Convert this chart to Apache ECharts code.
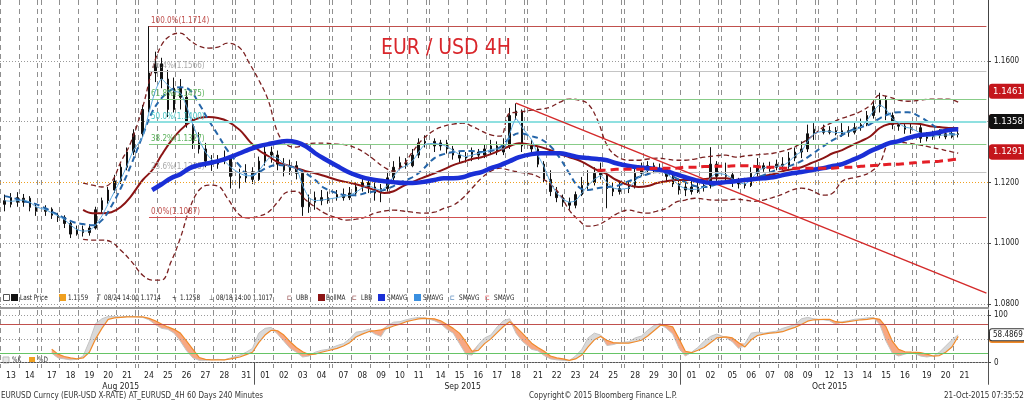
<!DOCTYPE html>
<html><head><meta charset="utf-8">
<script src="https://cdn.jsdelivr.net/npm/echarts@6/dist/echarts.min.js"></script>
<style>html,body{margin:0;padding:0;background:#fff}#c{width:1024px;height:401px}</style>
</head><body><div id="c"></div><script>
// ---------------- DATA ----------------
const dates = ['2015-08-13','2015-08-14','2015-08-17','2015-08-18','2015-08-19','2015-08-20','2015-08-21','2015-08-24','2015-08-25','2015-08-26','2015-08-27','2015-08-28','2015-08-31','2015-09-01','2015-09-02','2015-09-03','2015-09-04','2015-09-07','2015-09-08','2015-09-09','2015-09-10','2015-09-11','2015-09-14','2015-09-15','2015-09-16','2015-09-17','2015-09-18','2015-09-21','2015-09-22','2015-09-23','2015-09-24','2015-09-25','2015-09-28','2015-09-29','2015-09-30','2015-10-01','2015-10-02','2015-10-05','2015-10-06','2015-10-07','2015-10-08','2015-10-09','2015-10-12','2015-10-13','2015-10-14','2015-10-15','2015-10-16','2015-10-19','2015-10-20','2015-10-21'];
const monthNames = {'08':'Aug 2015','09':'Sep 2015','10':'Oct 2015'};
// 8-hour OHLC bars, three per day: [open, close, low, high]
const ohlc = [
[1.1140,1.1128,1.1105,1.1160],[1.1128,1.1150,1.1118,1.1165],[1.1150,1.1135,1.1120,1.1168],
[1.1135,1.1148,1.1120,1.1162],[1.1148,1.1118,1.1105,1.1155],[1.1118,1.1105,1.1090,1.1130],
[1.1105,1.1112,1.1090,1.1125],[1.1112,1.1092,1.1080,1.1118],[1.1092,1.1085,1.1070,1.1100],
[1.1085,1.1065,1.1050,1.1092],[1.1065,1.1030,1.1017,1.1070],[1.1030,1.1045,1.1025,1.1058],
[1.1045,1.1035,1.1022,1.1058],[1.1035,1.1050,1.1025,1.1062],[1.1050,1.1110,1.1045,1.1120],
[1.1110,1.1140,1.1100,1.1150],[1.1140,1.1175,1.1130,1.1185],[1.1175,1.1205,1.1165,1.1225],
[1.1205,1.1250,1.1195,1.1262],[1.1250,1.1300,1.1240,1.1315],[1.1300,1.1360,1.1290,1.1375],
[1.1360,1.1440,1.1350,1.1455],[1.1440,1.1560,1.1430,1.1714],[1.1560,1.1590,1.1530,1.1630],
[1.1590,1.1540,1.1510,1.1610],[1.1540,1.1440,1.1415,1.1570],[1.1440,1.1510,1.1430,1.1545],
[1.1510,1.1480,1.1440,1.1540],[1.1480,1.1390,1.1380,1.1500],[1.1390,1.1330,1.1310,1.1410],
[1.1330,1.1310,1.1295,1.1365],[1.1310,1.1270,1.1250,1.1330],[1.1270,1.1260,1.1238,1.1290],
[1.1260,1.1275,1.1245,1.1290],[1.1275,1.1280,1.1260,1.1305],[1.1280,1.1220,1.1180,1.1290],
[1.1220,1.1215,1.1180,1.1245],[1.1215,1.1235,1.1200,1.1260],[1.1235,1.1210,1.1195,1.1250],
[1.1210,1.1270,1.1205,1.1285],[1.1270,1.1300,1.1255,1.1318],[1.1300,1.1290,1.1265,1.1318],
[1.1290,1.1260,1.1240,1.1305],[1.1260,1.1240,1.1220,1.1280],[1.1240,1.1255,1.1225,1.1275],
[1.1255,1.1230,1.1210,1.1270],[1.1230,1.1120,1.1090,1.1240],[1.1120,1.1135,1.1100,1.1160],
[1.1135,1.1150,1.1110,1.1170],[1.1150,1.1140,1.1125,1.1175],[1.1140,1.1150,1.1130,1.1170],
[1.1150,1.1160,1.1140,1.1175],[1.1160,1.1150,1.1140,1.1180],[1.1150,1.1165,1.1142,1.1185],
[1.1165,1.1185,1.1155,1.1200],[1.1185,1.1200,1.1170,1.1215],[1.1200,1.1185,1.1165,1.1218],
[1.1185,1.1165,1.1140,1.1200],[1.1165,1.1180,1.1135,1.1195],[1.1180,1.1215,1.1170,1.1235],
[1.1215,1.1250,1.1205,1.1270],[1.1250,1.1265,1.1240,1.1285],[1.1265,1.1255,1.1245,1.1280],
[1.1255,1.1290,1.1250,1.1310],[1.1290,1.1330,1.1280,1.1345],[1.1330,1.1335,1.1315,1.1355],
[1.1335,1.1320,1.1300,1.1345],[1.1320,1.1330,1.1305,1.1340],[1.1330,1.1310,1.1295,1.1340],
[1.1310,1.1290,1.1275,1.1320],[1.1290,1.1280,1.1265,1.1300],[1.1280,1.1285,1.1265,1.1300],
[1.1285,1.1300,1.1270,1.1315],[1.1300,1.1290,1.1275,1.1310],[1.1290,1.1310,1.1280,1.1325],
[1.1310,1.1320,1.1290,1.1340],[1.1320,1.1300,1.1290,1.1335],[1.1300,1.1320,1.1290,1.1345],
[1.1320,1.1420,1.1310,1.1445],[1.1420,1.1435,1.1405,1.1460],[1.1435,1.1320,1.1300,1.1440],
[1.1320,1.1310,1.1290,1.1340],[1.1310,1.1260,1.1250,1.1320],[1.1260,1.1210,1.1200,1.1270],
[1.1210,1.1170,1.1155,1.1240],[1.1170,1.1150,1.1135,1.1185],[1.1150,1.1135,1.1120,1.1160],
[1.1135,1.1125,1.1110,1.1150],[1.1125,1.1160,1.1115,1.1170],[1.1160,1.1190,1.1155,1.1218],
[1.1190,1.1200,1.1175,1.1240],[1.1200,1.1230,1.1190,1.1250],[1.1230,1.1225,1.1210,1.1265],
[1.1225,1.1180,1.1115,1.1235],[1.1180,1.1170,1.1155,1.1200],[1.1170,1.1180,1.1160,1.1205],
[1.1180,1.1190,1.1165,1.1205],[1.1190,1.1230,1.1180,1.1245],[1.1230,1.1240,1.1220,1.1265],
[1.1240,1.1255,1.1225,1.1270],[1.1255,1.1240,1.1230,1.1265],[1.1240,1.1245,1.1230,1.1262],
[1.1245,1.1220,1.1200,1.1250],[1.1220,1.1195,1.1185,1.1230],[1.1195,1.1175,1.1160,1.1205],
[1.1175,1.1185,1.1155,1.1200],[1.1185,1.1170,1.1160,1.1205],[1.1170,1.1185,1.1165,1.1205],
[1.1185,1.1190,1.1170,1.1210],[1.1190,1.1260,1.1180,1.1316],[1.1260,1.1220,1.1205,1.1270],
[1.1220,1.1225,1.1205,1.1265],[1.1225,1.1200,1.1185,1.1235],[1.1200,1.1195,1.1180,1.1215],
[1.1195,1.1190,1.1180,1.1215],[1.1190,1.1230,1.1185,1.1250],[1.1230,1.1255,1.1220,1.1280],
[1.1255,1.1245,1.1235,1.1265],[1.1245,1.1250,1.1235,1.1268],[1.1250,1.1260,1.1240,1.1275],
[1.1260,1.1255,1.1240,1.1283],[1.1255,1.1280,1.1245,1.1300],[1.1280,1.1300,1.1270,1.1315],
[1.1300,1.1310,1.1280,1.1335],[1.1310,1.1360,1.1300,1.1390],[1.1360,1.1375,1.1340,1.1395],
[1.1375,1.1365,1.1358,1.1390],[1.1365,1.1370,1.1358,1.1385],[1.1370,1.1360,1.1355,1.1382],
[1.1360,1.1370,1.1350,1.1395],[1.1370,1.1365,1.1350,1.1385],[1.1365,1.1380,1.1358,1.1400],
[1.1380,1.1390,1.1370,1.1410],[1.1390,1.1420,1.1385,1.1435],[1.1420,1.1450,1.1410,1.1470],
[1.1450,1.1470,1.1430,1.1495],[1.1470,1.1420,1.1405,1.1485],[1.1420,1.1390,1.1375,1.1430],
[1.1390,1.1385,1.1370,1.1400],[1.1385,1.1375,1.1360,1.1395],[1.1375,1.1380,1.1360,1.1395],
[1.1380,1.1345,1.1330,1.1390],[1.1345,1.1350,1.1335,1.1365],[1.1350,1.1355,1.1340,1.1370],
[1.1355,1.1360,1.1345,1.1375],[1.1360,1.1350,1.1342,1.1375],[1.1350,1.1360,1.1345,1.1380],
[1.1360,1.1358,1.1348,1.1375]
];
// fast SMAVG (light blue), three per day
const smaFast = [
1.1140,1.1138,1.1140, 1.1142,1.1135,1.1120, 1.1110,1.1100,1.1090, 1.1078,1.1060,1.1045,
1.1040,1.1042,1.1060, 1.1090,1.1130,1.1170, 1.1210,1.1255,1.1305, 1.1350,1.1430,1.1500,
1.1540,1.1520,1.1500, 1.1495,1.1450,1.1390, 1.1340,1.1300,1.1275, 1.1268,1.1270,1.1250,
1.1230,1.1222,1.1222, 1.1238,1.1265,1.1285, 1.1280,1.1262,1.1252, 1.1245,1.1190,1.1150,
1.1140,1.1142,1.1145, 1.1150,1.1155,1.1158, 1.1168,1.1182,1.1190, 1.1180,1.1175,1.1190,
1.1220,1.1245,1.1255, 1.1270,1.1300,1.1325, 1.1328,1.1325,1.1318, 1.1305,1.1292,1.1285,
1.1290,1.1295,1.1300, 1.1308,1.1310,1.1310, 1.1360,1.1410,1.1380, 1.1340,1.1290,1.1250,
1.1200,1.1165,1.1145, 1.1135,1.1140,1.1165, 1.1190,1.1210,1.1222, 1.1200,1.1182,1.1178,
1.1182,1.1205,1.1225, 1.1240,1.1245,1.1242, 1.1232,1.1210,1.1190, 1.1180,1.1177,1.1178,
1.1185,1.1215,1.1230, 1.1225,1.1212,1.1200, 1.1195,1.1210,1.1235, 1.1248,1.1250,1.1253,
1.1255,1.1268,1.1288, 1.1302,1.1335,1.1360, 1.1368,1.1368,1.1364, 1.1364,1.1366,1.1372,
1.1382,1.1405,1.1435, 1.1455,1.1440,1.1410, 1.1395,1.1382,1.1378, 1.1362,1.1352,1.1352,
1.1355,1.1356,1.1356, 1.1358
];
// two values per day
const smaMid = [
1.1155,1.1148, 1.1138,1.1132, 1.1115,1.1099, 1.1083,1.1069, 1.1063,1.1059, 1.1076,1.1122, 1.1181,1.1250,
1.1355,1.1431, 1.1477,1.1504, 1.1513,1.1504, 1.1458,1.1405, 1.1356,1.1306, 1.1254,1.1221,
1.1234,1.1250, 1.1257,1.1254, 1.1247,1.1230, 1.1208,1.1181, 1.1165,1.1158, 1.1158,1.1165, 1.1171,1.1175,
1.1188,1.1204, 1.1217,1.1240, 1.1280,1.1293, 1.1300,1.1303, 1.1303,1.1300, 1.1303,1.1316, 1.1346,1.1362,
1.1352,1.1342, 1.1319,1.1280, 1.1230,1.1185, 1.1175,1.1181, 1.1185,1.1188, 1.1204,1.1217, 1.1227,1.1234,
1.1230,1.1214, 1.1201,1.1188, 1.1185,1.1191, 1.1204,1.1208, 1.1211,1.1214, 1.1224,1.1237, 1.1247,1.1257,
1.1270,1.1290, 1.1319,1.1339, 1.1356,1.1372, 1.1382,1.1392, 1.1411,1.1425, 1.1431,1.1431, 1.1415,1.1395,
1.1375,1.1362, 1.1356
];
const bollMA = [
null,null, null,null, null,null, null,null,
1.1110,1.1099, 1.1099,1.1102, 1.1119,1.1151, 1.1208,1.1240, 1.1290,1.1336, 1.1372,1.1398, 1.1412,1.1415,
1.1412,1.1402, 1.1372,1.1336, 1.1306,1.1287, 1.1267,1.1257, 1.1247,1.1237, 1.1230,1.1221, 1.1208,1.1201,
1.1194,1.1185, 1.1175,1.1165, 1.1171,1.1188, 1.1201,1.1214, 1.1230,1.1243, 1.1257,1.1267, 1.1277,1.1283,
1.1293,1.1306, 1.1319,1.1329, 1.1323,1.1316, 1.1306,1.1293, 1.1283,1.1273, 1.1257,1.1240, 1.1227,1.1208,
1.1191,1.1185, 1.1188,1.1198, 1.1204,1.1208, 1.1208,1.1208, 1.1211,1.1214, 1.1214,1.1208, 1.1211,1.1214,
1.1221,1.1227, 1.1237,1.1243, 1.1250,1.1263, 1.1280,1.1296, 1.1306,1.1322, 1.1336,1.1352, 1.1379,1.1392,
1.1395,1.1395, 1.1392,1.1385, 1.1382,1.1379, 1.1379
];
const upperBand = [
null,null, null,null, null,null, null,null,
1.1198,1.1191, 1.1185,1.1201, 1.1267,1.1326, 1.1448,1.1569, 1.1652,1.1684, 1.1691,1.1668, 1.1648,1.1642,
1.1645,1.1658, 1.1642,1.1592, 1.1537,1.1471, 1.1365,1.1323, 1.1316,1.1326, 1.1329,1.1329, 1.1326,1.1323,
1.1313,1.1296, 1.1273,1.1250, 1.1237,1.1257, 1.1300,1.1339, 1.1372,1.1385, 1.1392,1.1395, 1.1385,1.1369,
1.1356,1.1352, 1.1428,1.1431, 1.1438,1.1441, 1.1448,1.1464, 1.1474,1.1471, 1.1458,1.1405, 1.1323,1.1287,
1.1273,1.1273, 1.1277,1.1280, 1.1277,1.1273, 1.1273,1.1277, 1.1283,1.1287, 1.1290,1.1283, 1.1287,1.1290,
1.1293,1.1296, 1.1303,1.1313, 1.1329,1.1349, 1.1382,1.1398, 1.1411,1.1421, 1.1434,1.1454, 1.1487,1.1481,
1.1471,1.1467, 1.1471,1.1474, 1.1474,1.1474, 1.1464
];
const lowerBand = [
null,null, null,null, null,null, null,null,
1.1013,1.1010, 1.1010,1.1004, 1.0977,1.0945, 1.0895,1.0879, 1.0879,1.0938, 1.1017,1.1115, 1.1175,1.1191,
1.1188,1.1148, 1.1092,1.1083, 1.1089,1.1102, 1.1135,1.1168, 1.1171,1.1142, 1.1119,1.1099, 1.1083,1.1076,
1.1079,1.1086, 1.1099,1.1106, 1.1109,1.1106, 1.1102,1.1099, 1.1102,1.1115, 1.1125,1.1148, 1.1181,1.1214,
1.1237,1.1247, 1.1240,1.1234, 1.1227,1.1214, 1.1194,1.1161, 1.1109,1.1076, 1.1056,1.1060, 1.1076,1.1096,
1.1109,1.1102, 1.1099,1.1106, 1.1115,1.1135, 1.1142,1.1148, 1.1145,1.1142, 1.1142,1.1145, 1.1142,1.1138,
1.1142,1.1151, 1.1161,1.1175, 1.1181,1.1175, 1.1158,1.1165, 1.1204,1.1214, 1.1221,1.1234, 1.1263,1.1329,
1.1333,1.1329, 1.1323,1.1316, 1.1310,1.1303, 1.1296
];
const smaSlow = [
null,null, null,null, null,null, null,null, null,null, null,null, null,null,
null,1.1175, 1.1194,1.1214, 1.1227,1.1247, 1.1257,1.1263, 1.1270,1.1280, 1.1296,1.1309,
1.1319,1.1326, 1.1332,1.1336, 1.1332,1.1319, 1.1296,1.1277, 1.1254,1.1237, 1.1224,1.1214, 1.1208,1.1204,
1.1201,1.1198, 1.1198,1.1201, 1.1208,1.1214, 1.1214,1.1217, 1.1227,1.1234, 1.1247,1.1257, 1.1270,1.1283,
1.1293,1.1296, 1.1296,1.1296, 1.1290,1.1283, 1.1280,1.1277, 1.1273,1.1263, 1.1254,1.1250, 1.1247,1.1243,
1.1237,1.1227, 1.1217,1.1208, 1.1201,1.1198, 1.1201,1.1204, 1.1208,1.1211, 1.1214,1.1217, 1.1224,1.1230,
1.1234,1.1240, 1.1247,1.1254, 1.1260,1.1273, 1.1286,1.1303, 1.1316,1.1329, 1.1336,1.1346, 1.1356,1.1359,
1.1365,1.1372, 1.1375
];
const smaRed = [
null,null, null,null, null,null, null,null, null,null, null,null, null,null, null,null, null,null, null,null,
null,null, null,null, null,null, null,null, null,null, null,null, null,null, null,null, null,null, null,null,
null,null, null,null, null,null, null,null, null,null, null,null, null,null, null,null, null,null, null,null,
null,1.1240, 1.1240,1.1243, 1.1243,1.1243, 1.1245,1.1247, 1.1247,1.1247, 1.1250,1.1250, 1.1252,1.1253,
1.1253,1.1255, 1.1255,1.1253, 1.1250,1.1250, 1.1247,1.1247, 1.1247,1.1247, 1.1247,1.1247, 1.1250,1.1250,
1.1253,1.1255, 1.1257,1.1260, 1.1260,1.1263, 1.1266,1.1268, 1.1270,1.1273, 1.1277
];
// stochastic oscillator, three per day
const stochK = [
null,null,null, null,null,null, null,20,10, 8,6,7, 14,45,82, 92,97,97, 96,97,97, 95,90,80,
72,70,62, 45,25,10, 5,5,6, 7,6,10, 16,22,30, 62,72,74, 60,45,30, 22,12,14, 22,26,28,
36,40,50, 64,66,70, 60,55,78, 85,86,90, 93,95,94, 88,82,70, 62,40,18, 16,38,52, 58,75,88,
92,62,45, 28,25,15, 8,6,5, 4,14,28, 52,62,58, 36,38,42, 44,52,56, 68,78,82, 72,60,30,
14,22,32, 45,55,60, 52,44,30, 40,62,64, 62,64,66, 72,76,80, 92,95,92, 90,88,80, 86,88,91,
92,94,95, 80,45,20, 14,18,22, 14,12,14, 22,35,48, 58.4869
];
const stochD = [
null,null,null, null,null,null, null,28,18, 13,10,8, 10,22,50, 72,91,94, 95,96,96, 96,93,88,
81,75,70, 62,45,28, 11,7,6, 6,6,8, 12,17,22, 42,58,68, 67,58,44, 32,23,17, 18,22,25,
30,35,42, 54,60,65, 67,69,72, 77,81,86, 89,92,93, 92,88,80, 72,62,44, 24,26,40, 50,63,76,
86,75,62, 41,32,24, 14,10,8, 5,8,16, 33,48,55, 47,42,41, 41,44,47, 56,67,78, 78,75,50,
24,21,26, 32,42,52, 54,52,42, 33,48,57, 60,62,63, 65,70,74, 80,87,90, 91,91,86, 84,86,88,
90,91,93, 91,75,45, 28,23,22, 21,18,14, 15,22,33, 55.2
];
const priceTicks = [1.08, 1.10, 1.12, 1.14, 1.16];
const fibPct = [100.0, 76.4, 61.8, 50.0, 38.2, 23.6, 0.0];
const fibVal = [1.1714, 1.1566, 1.1475, 1.1400, 1.1327, 1.1235, 1.1087];
const lastPrice = 1.1358, refLevel = 1.1159;
const trendFrom = 1.1461, trendTo = 1.0836;
const lastVals = {ubb: 1.1461, boll: 1.1379, lbb: 1.1291, smaRed: 1.1277};
const legendTexts = {last:'Last Price', ref:'1.1159', hi:'08/24 14:00 1.1714', cur:'1.1258', lo:'08/18 14:00 1.1017'};

// ---------------- LAYOUT ----------------
const F = '"DejaVu Sans Condensed","DejaVu Sans",sans-serif';
const N_CAT = 315;
const cats = [], dayStart = [], gridSet = new Set();
dates.forEach((d, i) => {
  const wd = new Date(d + 'T12:00:00Z').getUTCDay();
  if (i > 0 && wd === 1) { gridSet.add(cats.length); cats.push(d + ' Sun'); }
  dayStart.push(cats.length); gridSet.add(cats.length);
  for (let h = 0; h < 6; h++) cats.push(d + ' ' + String(2 + 4 * h).padStart(2, '0') + ':00');
});
let padN = 0; while (cats.length < N_CAT) cats.push('pad' + (padN++));
const dayLabelSet = new Set(dayStart.map(s => s + 3));
const monthStartSet = new Set(), monthLabelMap = new Map();
const mFirst = [];
dates.forEach((d, i) => { if (i === 0 || d.slice(5, 7) !== dates[i - 1].slice(5, 7)) mFirst.push(i); });
mFirst.forEach((di, k) => {
  const a = dayStart[di];
  const b = k + 1 < mFirst.length ? dayStart[mFirst[k + 1]] : N_CAT;
  if (a > 0) monthStartSet.add(a);
  monthLabelMap.set(Math.floor((a + b) / 2) - 2, monthNames[dates[di].slice(5, 7)]);
});
const pos3 = k => dayStart[Math.floor(k / 3)] + 1 + 2 * (k % 3);
const pos2 = k => dayStart[Math.floor(k / 2)] + 1 + 3 * (k % 2);
const pairs = (arr, pf) => arr.map((v, k) => v == null ? null : [pf(k), v]).filter(Boolean);

const candleData = ohlc.map((q, k) => [pos3(k), q[0], q[1], q[2], q[3]]);
const hiIdx = dayStart[7] + 3;            // Aug 24 14:00 bar
const trendIdx = dayStart[26] + 3;        // Sep 18 14:00 bar
const lastIdx = N_CAT - 1;

// oscillator bands
const oscBase = [], oscUp = [], oscDn = [];
stochK.forEach((k, i) => {
  const d = stochD[i];
  if (k == null || d == null) return;
  const x = pos3(i);
  oscBase.push([x, Math.min(k, d)]);
  oscUp.push([x, Math.max(k - d, 0)]);
  oscDn.push([x, Math.max(d - k, 0)]);
});

const vSplit = {show: true, interval: (i) => gridSet.has(i), lineStyle: {color: '#8f8f8f', type: [5, 4], width: 1}};
const fibColors = ['#c0504d', '#c4c4c4', '#88cc88', '#8fe0e0', '#88cc88', '#c4c4c4', '#d05050'];
const fibText = ['#c0504d', '#a9a9a9', '#58b058', '#46c4c4', '#58b058', '#a9a9a9', '#c0504d'];

const fibLines = fibVal.map((v, i) => [
  {coord: [hiIdx, v], lineStyle: {color: fibColors[i], width: i === 3 ? 2 : 1, type: 'solid'},
   label: {show: true, position: 'insideStartTop', distance: [2, 1], formatter: fibPct[i].toFixed(1) + '%(' + v.toFixed(4) + ')',
           color: fibText[i], fontSize: 8, fontFamily: F}},
  {coord: [lastIdx, v]}
]);
const gridLines = priceTicks.map(v => ({yAxis: v, lineStyle: {color: '#9a9a9a', type: [1, 2], width: 1}, label: {show: false}}));

function box(v, txt, bg, fg, border, fs) {
  return {yAxis: v, lineStyle: {color: 'rgba(0,0,0,0)', width: 1},
    label: {show: true, position: 'end', distance: 2, formatter: txt, backgroundColor: bg, color: fg,
      borderColor: border || bg, borderWidth: 1, padding: [2, 2, 1, 3], borderRadius: 2, fontSize: fs || 9.5, fontFamily: F}};
}

const chart = echarts.init(document.getElementById('c'), null, {renderer: 'canvas'});
const leg = [];
const LY = 298;
function t(x, y, s, c, sz, sx) { leg.push({type: 'text', x: x, y: y, scaleX: sx || 1, silent: true, style: {text: s, fill: c || '#222', font: (sz || 7.5) + 'px ' + F, verticalAlign: 'middle'}}); }
function r(x, y, w, h, fill, stroke) { leg.push({type: 'rect', silent: true, shape: {x: x, y: y, width: w, height: h}, style: {fill: fill, stroke: stroke || null, lineWidth: 1}}); }
const LS = 0.85;
r(3.5, LY - 3.5, 6, 6, '#fff', '#555'); r(11, LY - 4, 7, 7, '#111');
t(20, LY, legendTexts.last, '#222', 7.5, LS); r(59, LY - 4, 7, 7, '#f0a020'); t(68, LY, legendTexts.ref, '#222', 7.5, LS);
t(97, LY, 'T', '#333', 7.5, LS); t(104, LY, legendTexts.hi, '#222', 7.5, LS);
t(172, LY, '+', '#333', 7.5, LS); t(180, LY, legendTexts.cur, '#222', 7.5, LS);
t(209, LY, '⊥', '#333', 7.5, LS); t(216, LY, legendTexts.lo, '#222', 7.5, LS);
t(287, LY, '⊏', '#7a2020', 7.5, LS); t(296, LY, 'UBB', '#222', 7.5, LS);
r(318, LY - 4, 7, 7, '#8b1414'); t(326, LY, 'BollMA', '#222', 7.5, LS);
t(352, LY, '⊏', '#7a2020', 7.5, LS); t(361, LY, 'LBB', '#222', 7.5, LS);
r(378, LY - 4, 7, 7, '#1a2fd6'); t(387, LY, 'SMAVG', '#222', 7.5, LS);
r(414, LY - 4, 7, 7, '#3a8fe0'); t(423, LY, 'SMAVG', '#222', 7.5, LS);
t(450, LY, '⊏', '#2565a8', 7.5, LS); t(459, LY, 'SMAVG', '#222', 7.5, LS);
t(485, LY, '⊏', '#e41e26', 7.5, LS); t(494, LY, 'SMAVG', '#222', 7.5, LS);
// oscillator legend
r(3, 357, 6, 6, '#e6e6e6', '#bbb'); t(12, 360, '%K', '#333', 7.5, LS);
r(29, 357, 6, 6, '#f0a020'); t(38, 360, '%D', '#333', 7.5, LS);
// footer
t(1, 396, 'EURUSD Curncy (EUR-USD X-RATE) AT_EURUSD_4H 60 Days 240 Minutes', '#333', 8);
t(529, 396, 'Copyright© 2015 Bloomberg Finance L.P.', '#333', 8);
t(944, 396, '21-Oct-2015 07:35:52', '#333', 8);

const option = {
  animation: false,
  backgroundColor: '#fff',
  textStyle: {fontFamily: F},
  title: {text: 'EUR / USD 4H', left: 376, top: 33, textStyle: {color: '#d9262b', fontSize: 21, fontWeight: 'normal', fontFamily: F}},
  grid: [{left: 0, right: 36, top: 0, height: 308}, {left: 0, right: 36, top: 310, height: 58}],
  xAxis: [
    {type: 'category', gridIndex: 0, data: cats, axisLine: {show: true, lineStyle: {color: '#9a9a9a', width: 2}}, axisTick: {show: false}, axisLabel: {show: false}, splitLine: vSplit},
    {type: 'category', gridIndex: 1, data: cats, axisLine: {show: true, lineStyle: {color: '#555'}},
     axisTick: {show: true, interval: (i) => monthStartSet.has(i), length: 22, lineStyle: {color: '#555'}},
     axisLabel: {interval: (i) => dayLabelSet.has(i), formatter: (v) => v.slice(8, 10), color: '#222', fontSize: 8.5, margin: 3, fontFamily: F},
     splitLine: vSplit},
    {type: 'category', gridIndex: 1, data: cats, position: 'bottom', offset: 11, axisLine: {show: false}, axisTick: {show: false},
     axisLabel: {interval: (i) => monthLabelMap.has(i), formatter: (v, i) => monthLabelMap.get(i) || '', color: '#222', fontSize: 8.5, margin: 3, fontFamily: F}}
  ],
  yAxis: [
    {type: 'value', gridIndex: 0, position: 'right', min: 1.0787, max: 1.18,
     axisLine: {show: true, lineStyle: {color: '#444'}},
     axisTick: {show: true, length: 3, customValues: priceTicks, lineStyle: {color: '#444'}},
     axisLabel: {customValues: priceTicks, formatter: (v) => v.toFixed(4), color: '#222', fontSize: 8, margin: 6, fontFamily: F},
     splitLine: {show: false}},
    {type: 'value', gridIndex: 1, position: 'right', min: -11.1, max: 110.5,
     axisLine: {show: true, lineStyle: {color: '#444'}},
     axisTick: {show: true, length: 3, customValues: [0, 100], lineStyle: {color: '#444'}},
     axisLabel: {customValues: [0, 100], formatter: (v) => String(Math.round(v)), color: '#222', fontSize: 8, margin: 6, fontFamily: F},
     splitLine: {show: false}}
  ],
  graphic: leg,
  series: [
    {type: 'line', name: 'refs', xAxisIndex: 0, yAxisIndex: 0, data: [], z: 1, silent: true,
     markLine: {symbol: ['none', 'none'], silent: true, animation: false,
       data: [].concat(gridLines,
         [{yAxis: refLevel, lineStyle: {color: '#f0a020', type: [1, 2], width: 1.2}, label: {show: false}}],
         fibLines,
         [[{coord: [trendIdx, trendFrom], lineStyle: {color: '#d42a2a', width: 1.5, type: 'solid'}, label: {show: false}}, {coord: [lastIdx, trendTo]}]])}},
    {type: 'candlestick', name: 'Last Price', xAxisIndex: 0, yAxisIndex: 0, data: candleData, encode: {x: 0, y: [1, 2, 3, 4]}, barWidth: 2, z: 2,
     itemStyle: {color: '#111', color0: '#111', borderColor: '#111', borderColor0: '#111', borderWidth: 1}},
    {type: 'line', name: 'UBB', xAxisIndex: 0, yAxisIndex: 0, data: pairs(upperBand, pos2), smooth: 0.4, showSymbol: false, z: 3, lineStyle: {color: '#7a2020', width: 1.3, type: [5, 3]}},
    {type: 'line', name: 'LBB', xAxisIndex: 0, yAxisIndex: 0, data: pairs(lowerBand, pos2), smooth: 0.4, showSymbol: false, z: 3, lineStyle: {color: '#7a2020', width: 1.3, type: [5, 3]}},
    {type: 'line', name: 'BollMA', xAxisIndex: 0, yAxisIndex: 0, data: pairs(bollMA, pos2), smooth: 0.4, showSymbol: false, z: 4, lineStyle: {color: '#8b1414', width: 2}},
    {type: 'line', name: 'SMAVG mid', xAxisIndex: 0, yAxisIndex: 0, data: pairs(smaMid, pos2), smooth: 0.4, showSymbol: false, z: 4, lineStyle: {color: '#2565a8', width: 2, type: [6, 4]}},
    {type: 'line', name: 'SMAVG fast', xAxisIndex: 0, yAxisIndex: 0, data: pairs(smaFast, pos3), smooth: 0.2, showSymbol: false, z: 5, lineStyle: {color: '#5aa8e0', width: 1}},
    {type: 'line', name: 'SMAVG slow', xAxisIndex: 0, yAxisIndex: 0, data: pairs(smaSlow, pos2), smooth: 0.4, showSymbol: false, z: 6, lineStyle: {color: '#1a2fd6', width: 4.5}},
    {type: 'line', name: 'SMAVG red', xAxisIndex: 0, yAxisIndex: 0, data: pairs(smaRed, pos2), smooth: 0.4, showSymbol: false, z: 7, lineStyle: {color: '#e41e26', width: 3, type: [8, 5]}},
    {type: 'line', name: 'boxes', xAxisIndex: 0, yAxisIndex: 0, data: [], z: 20, silent: true,
     markLine: {symbol: ['none', 'none'], silent: true, animation: false,
       data: [box(lastVals.smaRed, lastVals.smaRed.toFixed(4), '#e41e26', '#fff'),
              box(lastVals.boll, lastVals.boll.toFixed(4), '#8b1414', '#fff'),
              box(lastVals.ubb, lastVals.ubb.toFixed(4), '#c4161c', '#fff'),
              box(lastVals.lbb, lastVals.lbb.toFixed(4), '#c4161c', '#fff'),
              box(lastPrice, lastPrice.toFixed(4), '#111', '#fff')]}},
    // oscillator
    {type: 'line', name: 'base', xAxisIndex: 1, yAxisIndex: 1, stack: 'osc', data: oscBase, showSymbol: false, lineStyle: {opacity: 0}, z: 2, silent: true,
     markLine: {symbol: ['none', 'none'], silent: true, animation: false,
       data: [{yAxis: 0, lineStyle: {color: '#9a9a9a', type: [1, 2], width: 1}, label: {show: false}},
              {yAxis: 50, lineStyle: {color: '#9a9a9a', type: [1, 2], width: 1}, label: {show: false}},
              {yAxis: 100, lineStyle: {color: '#9a9a9a', type: [1, 2], width: 1}, label: {show: false}},
              {yAxis: 80, lineStyle: {color: '#c0504d', type: 'solid', width: 1}, label: {show: false}},
              {yAxis: 20, lineStyle: {color: '#66c466', type: 'solid', width: 1}, label: {show: false}}]}},
    {type: 'line', name: 'up', xAxisIndex: 1, yAxisIndex: 1, stack: 'osc', data: oscUp, showSymbol: false, lineStyle: {opacity: 0}, areaStyle: {color: '#d9d9d9', opacity: 1}, z: 2, silent: true},
    {type: 'line', name: 'dn', xAxisIndex: 1, yAxisIndex: 1, stack: 'osc', data: oscDn, showSymbol: false, lineStyle: {opacity: 0}, areaStyle: {color: '#f7a883', opacity: 1}, z: 2, silent: true},
    {type: 'line', name: '%K', xAxisIndex: 1, yAxisIndex: 1, data: pairs(stochK, pos3), showSymbol: false, z: 3, lineStyle: {color: '#c4c4c4', width: 1}},
    {type: 'line', name: '%D', xAxisIndex: 1, yAxisIndex: 1, data: pairs(stochD, pos3), showSymbol: false, z: 4, lineStyle: {color: '#f08a2a', width: 1.2},
     markLine: {symbol: ['none', 'none'], silent: true, animation: false,
       data: [box(stochD[stochD.length - 1], '55.2000', '#f08a2a', '#fff', null, 8),
              box(stochK[stochK.length - 1], String(stochK[stochK.length - 1]), '#fff', '#222', '#333', 8)]}}
  ]
};
chart.setOption(option);
</script></body></html>
